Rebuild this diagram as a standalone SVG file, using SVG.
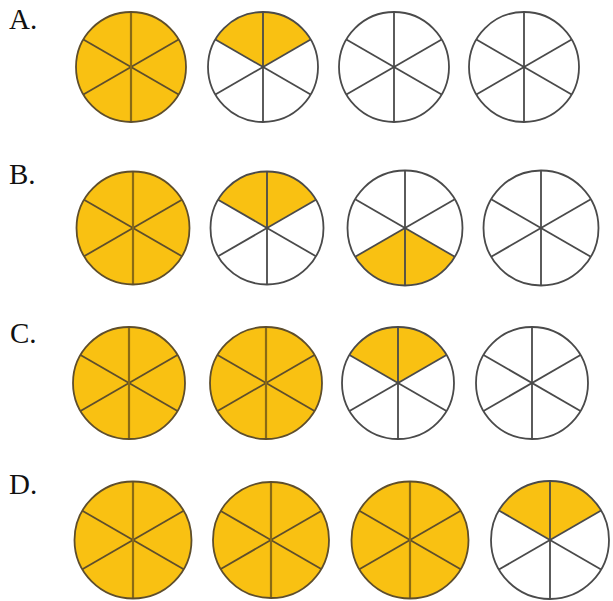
<svg xmlns="http://www.w3.org/2000/svg" xmlns:xlink="http://www.w3.org/1999/xlink" width="613" height="601" viewBox="0 0 613 601">
<style>
  .lbl{font-family:"Liberation Serif","Times New Roman",serif;font-size:29px;fill:#111}
  line,circle,path{vector-effect:non-scaling-stroke}
  .bg{stroke:none}
  .yel{fill:#F9C112}
  .wht{fill:#ffffff}
  .w{fill:#F9C112;stroke:none}
  .sp{stroke:#4a4a4a;stroke-width:1.8;fill:none}
  .spy{stroke:#5e4e2c;stroke-width:1.8;fill:none}
  .vy{stroke:#8a6a14;stroke-width:2.2}
</style>
<defs>
  <circle id="disc" r="50"/>
  <path id="top" d="M0,0 L-43.30,-25 A50,50 0 0 1 43.30,-25 Z"/>
  <path id="bot" d="M0,0 L43.30,25 A50,50 0 0 1 -43.30,25 Z"/>
  <g id="diag">
    <line x1="-43.30" y1="-25" x2="43.30" y2="25"/>
    <line x1="-43.30" y1="25" x2="43.30" y2="-25"/>
  </g>
  <line id="vert" x1="0" y1="-50" x2="0" y2="50"/>
  <g id="full">
    <use xlink:href="#disc" class="bg yel"/>
    <g class="spy"><use xlink:href="#diag"/><use xlink:href="#vert" class="vy"/><use xlink:href="#disc"/></g>
  </g>
  <g id="empty">
    <use xlink:href="#disc" class="bg wht"/>
    <g class="sp"><use xlink:href="#diag"/><use xlink:href="#vert"/><use xlink:href="#disc"/></g>
  </g>
  <g id="topfill">
    <use xlink:href="#disc" class="bg wht"/>
    <use xlink:href="#top" class="w"/>
    <g class="sp"><use xlink:href="#diag"/><use xlink:href="#vert"/><use xlink:href="#disc"/></g>
  </g>
  <g id="botfill">
    <use xlink:href="#disc" class="bg wht"/>
    <use xlink:href="#bot" class="w"/>
    <g class="sp"><use xlink:href="#diag"/><use xlink:href="#vert"/><use xlink:href="#disc"/></g>
  </g>
</defs>
<rect width="613" height="601" fill="#ffffff"/>

<g id="rowA">
  <text class="lbl" x="9" y="29">A.</text>
  <g id="a1" transform="translate(131,67) scale(1.1)"><use xlink:href="#full"/></g>
  <g id="a2" transform="translate(263,67) scale(1.1)"><use xlink:href="#topfill"/></g>
  <g id="a3" transform="translate(394,67) scale(1.1)"><use xlink:href="#empty"/></g>
  <g id="a4" transform="translate(524,67) scale(1.1)"><use xlink:href="#empty"/></g>
</g>

<g id="rowB">
  <text class="lbl" x="9" y="184">B.</text>
  <g id="b1" transform="translate(133,228) scale(1.13)"><use xlink:href="#full"/></g>
  <g id="b2" transform="translate(267,228) scale(1.13)"><use xlink:href="#topfill"/></g>
  <g id="b3" transform="translate(405,228) scale(1.15)"><use xlink:href="#botfill"/></g>
  <g id="b4" transform="translate(541,228) scale(1.15)"><use xlink:href="#empty"/></g>
</g>

<g id="rowC">
  <text class="lbl" x="10" y="343">C.</text>
  <g id="c1" transform="translate(129,383) scale(1.12)"><use xlink:href="#full"/></g>
  <g id="c2" transform="translate(266,383) scale(1.12)"><use xlink:href="#full"/></g>
  <g id="c3" transform="translate(398,383) scale(1.12)"><use xlink:href="#topfill"/></g>
  <g id="c4" transform="translate(532,383) scale(1.12)"><use xlink:href="#empty"/></g>
</g>

<g id="rowD">
  <text class="lbl" x="9" y="494">D.</text>
  <g id="d1" transform="translate(133,540) scale(1.17)"><use xlink:href="#full"/></g>
  <g id="d2" transform="translate(271,540) scale(1.16)"><use xlink:href="#full"/></g>
  <g id="d3" transform="translate(410,540) scale(1.17)"><use xlink:href="#full"/></g>
  <g id="d4" transform="translate(550,540) scale(1.18)"><use xlink:href="#topfill"/></g>
</g>
</svg>
